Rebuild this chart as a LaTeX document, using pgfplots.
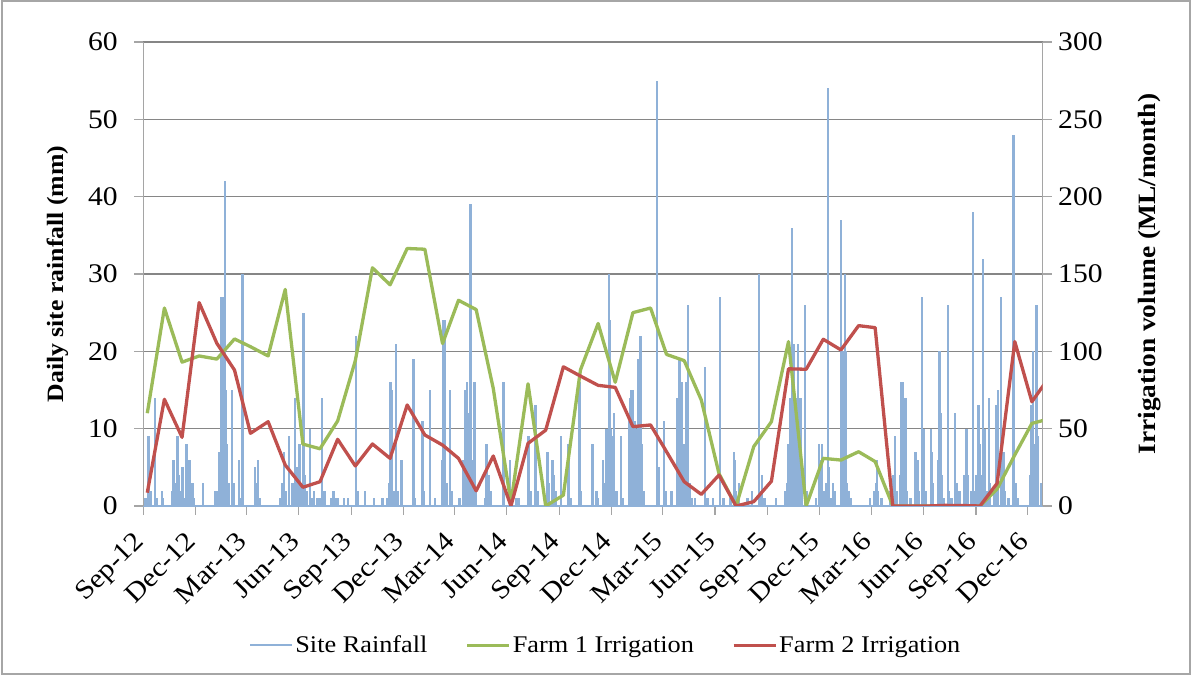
\documentclass[border=0pt]{standalone}
\usepackage{fontspec}
\setmainfont{Liberation Serif}[FakeStretch=1.1]
\usepackage{pgfplots}
\usepackage{pgfplotstable}
\pgfplotsset{compat=1.18}
\definecolor{rain}{RGB}{143,177,216}
\definecolor{farmA}{RGB}{155,187,89}
\definecolor{farmB}{RGB}{192,80,77}
\definecolor{gridc}{RGB}{134,134,134}
\definecolor{axisc}{RGB}{165,165,165}

% daily site rainfall (mm); day 0 = 1 Sep 2012
\pgfplotstableread{
day mm
4 1
9 9
13 2
20 14
24 1
33 2
35 1
50 2
53 6
56 3
60 9
62 4
64 2
69 5
72 1
76 8
78 3
81 6
84 2
86 3
88 1
105 3
127 2
130 2
133 7
136 27
138 20
140 27
143 42
145 15
147 8
150 3
156 15
158 3
168 6
170 1
174 30
196 5
199 3
201 6
204 1
240 1
244 3
247 7
250 2
256 9
262 3
266 14
270 5
274 8
277 3
281 25
284 4
287 2
292 10
296 1
300 2
305 1
309 1
314 14
318 2
330 1
334 2
338 1
342 1
352 1
359 1
373 22
376 2
389 2
405 1
420 1
428 1
432 3
434 16
436 15
439 2
443 21
446 2
453 6
474 19
476 1
490 11
492 2
503 15
512 1
524 6
527 24
529 24
532 3
538 15
541 2
555 1
562 6
565 15
568 16
570 12
574 39
576 6
581 16
584 2
600 1
602 8
604 3
606 4
609 2
632 16
643 6
646 1
655 1
658 1
676 9
679 2
688 13
692 2
709 7
712 3
718 6
721 4
724 2
733 9
746 8
750 1
765 16
768 2
787 8
789 8
795 2
798 1
806 6
808 3
813 10
815 5
817 30
819 24
821 10
824 9
826 12
830 2
838 9
842 1
852 11
854 14
856 15
859 15
862 11
864 10
866 6
869 19
872 22
874 8
878 2
901 55
904 5
914 11
917 2
927 2
937 14
941 19
944 16
948 8
952 16
956 26
958 3
962 1
968 1
986 18
990 1
1000 1
1012 27
1018 1
1030 1
1036 7
1038 6
1040 2
1045 3
1060 1
1068 2
1080 30
1083 2
1085 4
1090 1
1110 1
1126 2
1129 3
1132 8
1135 14
1138 36
1141 21
1143 8
1146 14
1149 21
1151 11
1153 14
1156 3
1161 26
1164 2
1180 1
1186 8
1188 6
1191 8
1194 2
1198 3
1201 54
1203 5
1206 1
1210 3
1213 2
1224 37
1226 20
1228 20
1231 30
1233 20
1235 3
1238 2
1242 1
1275 1
1282 2
1285 3
1287 6
1289 2
1295 1
1310 2
1315 4
1319 9
1322 2
1328 4
1330 16
1332 16
1334 7
1337 14
1340 2
1346 1
1355 7
1358 6
1361 2
1366 27
1369 10
1372 2
1382 10
1384 7
1386 3
1394 6
1397 20
1399 12
1401 4
1405 1
1412 26
1414 2
1418 1
1424 12
1427 3
1432 2
1440 4
1444 10
1447 4
1453 2
1456 38
1458 2
1462 4
1465 13
1467 8
1471 4
1473 32
1475 9
1477 10
1480 2
1484 14
1486 3
1492 2
1497 13
1500 15
1505 27
1507 3
1509 7
1512 2
1518 1
1527 48
1530 3
1535 1
1556 4
1558 13
1561 20
1564 8
1567 26
1570 9
1575 3
1578 3
}\raintable

% monthly irrigation (ML/month)
\pgfplotstableread{
day f1 f2
7 60 8.6
37 128 69
68 93 44.4
98 97 131.5
129 95 105.2
160 108 87.9
188 103 47
219 97 54.5
249 140 26.5
280 40 12.1
310 37 15.7
341 55 43.1
372 94 25.9
402 154 40.1
433 143 30.8
463 166.5 65.3
494 166 45.9
525 105 39.4
553 133 30.8
584 127 9.8
614 76 32.3
645 2 0
675 79 40.5
706 0 49
737 7 90
767 88 84
798 118 78
828 80 76.7
859 125 51.3
890 128 52.4
918 98 35.1
949 94 15.7
979 68.5 7.5
1010 21 20
1040 0 0
1071 38.4 2.8
1102 54.5 16
1132 106.3 88.7
1163 0 88.4
1193 30.8 107.8
1224 29.7 100.9
1255 35.1 116.6
1284 28.7 115.3
1315 0 0
1345 0 0
1376 0 0
1406 0 0.4
1437 0 0.3
1468 0 0
1498 11 14.7
1529 33 106.3
1559 53.4 67.4
1590 56.4 83.6
}\irrtable

\begin{document}
\begin{tikzpicture}[x=1bp,y=1bp]
\useasboundingbox (0,0) rectangle (1192,675);
\draw[gray!70, line width=1.2bp] (2,1) rectangle (1190,674);
\pgfplotsset{
  myaxis/.style={
    at={(143.3bp,169bp)}, anchor=south west,
    scale only axis, width=899.4bp, height=464bp,
    xmin=0, xmax=1578,
    tick align=outside, major tick length=9bp,
    tick style={axisc, line width=1.1bp},
    /pgf/number format/assume math mode=true,
    ticklabel style={font=\fontsize{27}{32}\selectfont},
  }
}
\begin{axis}[
  myaxis,
  ymin=0, ymax=60,
  axis x line*=bottom, axis y line*=left,
  x axis line style={rain, line width=1.6bp, -},
  y axis line style={axisc, line width=1.2bp, -},
  ytick={0,10,...,60},
  yticklabel style={xshift=-13bp},
  ymajorgrids, grid style={gridc, line width=1.1bp},
  xtick={0,91,181,273,365,456,546,638,730,821,911,1003,1095,1186,1277,1369,1461,1552},
  xticklabels={Sep-12,Dec-12,Mar-13,Jun-13,Sep-13,Dec-13,Mar-14,Jun-14,Sep-14,Dec-14,Mar-15,Jun-15,Sep-15,Dec-15,Mar-16,Jun-16,Sep-16,Dec-16},
  xticklabel style={xshift=-11bp, yshift=-12bp, rotate=45, anchor=north east, inner sep=2bp, font=\fontsize{27}{32}\selectfont},
  ylabel={Daily site rainfall (mm)},
  ylabel style={font=\fontsize{23.5}{28}\selectfont\bfseries, at={(rel axis cs:-0.095,0.5)}, anchor=center},
]
\addplot[ycomb, rain, line width=2.4bp, no markers] table[x=day,y=mm]{\raintable};
\end{axis}
\begin{axis}[
  myaxis,
  ymin=0, ymax=300,
  axis x line=none, axis y line*=right,
  y axis line style={axisc, line width=1.2bp, -},
  ytick={0,50,...,300},
  yticklabel style={xshift=3bp},
  ylabel={Irrigation volume (ML/month)},
  ylabel style={font=\fontsize{25}{30}\selectfont\bfseries, at={(rel axis cs:1.119,0.5)}, anchor=center},
  legend style={at={(rel axis cs:0.514,-0.30)}, anchor=center, draw=none, fill=none,
    legend columns=3, font=\fontsize{24}{28}\selectfont,
    /tikz/every even column/.append style={column sep=36bp}},
  legend image code/.code={\draw (0bp,0bp) -- (42bp,0bp);},
]
\addlegendimage{rain, line width=2.5bp}
\addlegendentry{Site Rainfall}
\addplot[farmA, line width=3.3bp, line join=round, no markers] table[x=day,y=f1]{\irrtable};
\addlegendentry{Farm 1 Irrigation}
\addplot[farmB, line width=3.3bp, line join=round, no markers] table[x=day,y=f2]{\irrtable};
\addlegendentry{Farm 2 Irrigation}
\end{axis}
\end{tikzpicture}
\end{document}
